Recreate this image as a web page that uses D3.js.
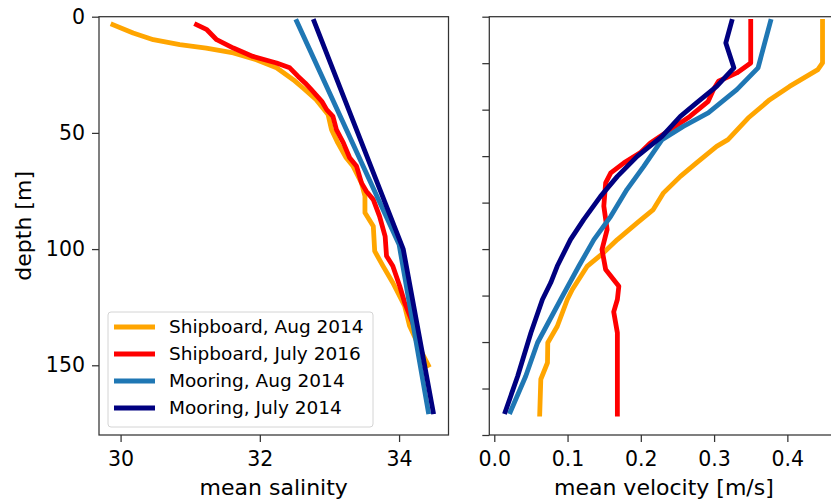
<!DOCTYPE html>
<html>
<head>
<meta charset="utf-8">
<script src="https://cdn.jsdelivr.net/npm/d3@7"></script>
<style>
  body { margin: 0; background: #fff; }
  svg { font-family: "DejaVu Sans", sans-serif; }
</style>
</head>
<body>
<div id="chart"></div>
<script>
// ---- data ----
var seriesNames = ["Shipboard, Aug 2014", "Shipboard, July 2016", "Mooring, Aug 2014", "Mooring, July 2014"];
var seriesColors = ["#ffa500", "#ff0000", "#1f77b4", "#000080"];

// salinity profiles
var salDepthShip14 = [3.4, 7, 9.9, 12, 13.5, 15.6, 18.5, 22, 27.1, 30.7, 35.7, 42.1, 48.6, 54.3, 60.7, 64.4, 71.5, 77.2, 84.4, 90.2, 100.9, 107.3, 114.5, 124.5, 133, 145.3, 150];
var salShip14      = [29.89, 30.18, 30.47, 30.85, 31.23, 31.62, 31.95, 32.24, 32.48, 32.62, 32.81, 32.98, 33.03, 33.12, 33.24, 33.34, 33.46, 33.51, 33.51, 33.63, 33.65, 33.77, 33.91, 34.08, 34.15, 34.34, 34.42];
var salDepthShip16 = [3.4, 5.6, 9.9, 13.5, 17.1, 19.9, 22, 25.7, 28.5, 31.4, 36.4, 40, 42.9, 48.6, 54.3, 60.7, 64.4, 71.5, 75.1, 78.7, 85.9, 94.5, 103, 107.3, 116, 123, 136];
var salShip16      = [31.09, 31.24, 31.38, 31.62, 31.90, 32.24, 32.43, 32.55, 32.65, 32.74, 32.89, 32.96, 33.05, 33.10, 33.20, 33.29, 33.39, 33.46, 33.53, 33.63, 33.72, 33.80, 33.82, 33.91, 34.01, 34.08, 34.25];
var salDepthMoorAug = [2, 98, 170];
var salMoorAug      = [32.53, 34.00, 34.42];
var salDepthMoorJul = [2, 100, 170];
var salMoorJul      = [32.78, 34.06, 34.49];

// velocity profiles
var velDepthShip14 = [2, 19.9, 22.8, 30, 35.7, 43.6, 52.9, 55.8, 62.9, 68.7, 75.8, 83, 88.7, 95.9, 101.6, 107.3, 117.4, 121.7, 133.2, 140.3, 148.9, 156, 171];
var velShip14      = [0.448, 0.448, 0.4416, 0.403, 0.376, 0.3465, 0.319, 0.3035, 0.276, 0.254, 0.231, 0.217, 0.195, 0.168, 0.149, 0.127, 0.1065, 0.0997, 0.086, 0.073, 0.0726, 0.0635, 0.062];
var velDepthShip16 = [2, 19.9, 24.2, 27.8, 31.4, 36.4, 42.9, 48.6, 54.3, 58.6, 62.9, 67.2, 71.5, 81.5, 91.6, 100.2, 108.8, 116, 121.7, 127, 136, 171];
var velShip16      = [0.350, 0.350, 0.331, 0.306, 0.299, 0.292, 0.267, 0.240, 0.213, 0.199, 0.177, 0.159, 0.152, 0.1495, 0.154, 0.147, 0.152, 0.170, 0.168, 0.163, 0.168, 0.168];
var velDepthMoorAug = [2, 22, 31.4, 41.4, 47.2, 52.9, 64.4, 74.4, 85.9, 95.9, 107.3, 121.7, 140.3, 154.6, 170];
var velMoorAug      = [0.377, 0.360, 0.331, 0.292, 0.258, 0.229, 0.204, 0.181, 0.159, 0.136, 0.1155, 0.0906, 0.059, 0.043, 0.022];
var velDepthMoorJul = [2, 11.3, 22, 30, 37.1, 42.9, 51.5, 60.1, 68.7, 77.3, 87.3, 95.9, 107.3, 114.5, 121.7, 136, 154.6, 170];
var velMoorJul      = [0.324, 0.316, 0.327, 0.3035, 0.276, 0.254, 0.229, 0.195, 0.168, 0.145, 0.122, 0.104, 0.086, 0.077, 0.0657, 0.050, 0.032, 0.015];

var salTicks = [30, 32, 34];
var velTicks = [0.0, 0.1, 0.2, 0.3, 0.4];
var depthTicksLeft = [0, 50, 100, 150];
var depthTicksRight = [0, 20, 40, 60, 80, 100, 120, 140, 160, 180];

// ---- layout ----
var width = 831, height = 501;
var plotTop = 16.7, plotBottom = 435;
var left1 = 99, right1 = 448.5;
var left2 = 489.3, right2 = 838.5;

var svg = d3.select("#chart").append("svg")
    .attr("width", width)
    .attr("height", height);

var y = d3.scaleLinear().domain([0, 180]).range([plotTop, plotBottom]);
var xSal = d3.scaleLinear().domain([29.69, 34.71]).range([left1, right1]);
var xVel = d3.scaleLinear().domain([-0.0068, 0.4698]).range([left2, right2]);

function zip(xs, ys) {
    return xs.map(function(v, i) { return [v, ys[i]]; });
}

var salSeries = [zip(salShip14, salDepthShip14), zip(salShip16, salDepthShip16),
                 zip(salMoorAug, salDepthMoorAug), zip(salMoorJul, salDepthMoorJul)];
var velSeries = [zip(velShip14, velDepthShip14), zip(velShip16, velDepthShip16),
                 zip(velMoorAug, velDepthMoorAug), zip(velMoorJul, velDepthMoorJul)];

function drawLines(g, series, x) {
    var line = d3.line()
        .x(function(d) { return x(d[0]); })
        .y(function(d) { return y(d[1]); });
    g.selectAll("path.profile")
        .data(series)
        .enter()
        .append("path")
        .attr("class", "profile")
        .attr("d", line)
        .attr("fill", "none")
        .attr("stroke", function(d, i) { return seriesColors[i]; })
        .attr("stroke-width", 4.8)
        .attr("stroke-linejoin", "round")
        .attr("stroke-linecap", "square");
}

function styleAxis(g, size) {
    g.selectAll(".domain").remove();
    g.selectAll(".tick line").attr("stroke", "#333").attr("stroke-width", 1.25);
    g.selectAll(".tick text")
        .attr("font-family", "DejaVu Sans")
        .attr("font-size", size)
        .attr("fill", "#000");
}

function drawFrame(x0, x1) {
    svg.append("rect")
        .attr("x", x0).attr("y", plotTop)
        .attr("width", x1 - x0).attr("height", plotBottom - plotTop)
        .attr("fill", "none")
        .attr("stroke", "#333")
        .attr("stroke-width", 1.25);
}

// left panel
var gLeft = svg.append("g");
drawLines(gLeft, salSeries, xSal);

svg.append("g")
    .attr("transform", "translate(0," + plotBottom + ")")
    .call(d3.axisBottom(xSal).tickValues(salTicks).tickFormat(d3.format("d")).tickSize(7).tickPadding(9.5))
    .call(styleAxis, 20.5);

svg.append("g")
    .attr("transform", "translate(" + left1 + ",0)")
    .call(d3.axisLeft(y).tickValues(depthTicksLeft).tickFormat(d3.format("d")).tickSize(7).tickPadding(7))
    .call(styleAxis, 20.5);

drawFrame(left1, right1);

// right panel
var gRight = svg.append("g");
drawLines(gRight, velSeries, xVel);

svg.append("g")
    .attr("transform", "translate(0," + plotBottom + ")")
    .call(d3.axisBottom(xVel).tickValues(velTicks).tickFormat(d3.format(".1f")).tickSize(7).tickPadding(9.5))
    .call(styleAxis, 20.5);

svg.append("g")
    .attr("transform", "translate(" + left2 + ",0)")
    .call(d3.axisLeft(y).tickValues(depthTicksRight).tickFormat("").tickSize(7))
    .call(styleAxis, 20.5);

drawFrame(left2, right2);

// axis labels
svg.append("text")
    .attr("x", (left1 + right1) / 2)
    .attr("y", 495)
    .attr("text-anchor", "middle")
    .attr("font-size", 22)
    .text("mean salinity");

svg.append("text")
    .attr("x", (left2 + right2) / 2)
    .attr("y", 495)
    .attr("text-anchor", "middle")
    .attr("font-size", 22)
    .text("mean velocity [m/s]");

svg.append("text")
    .attr("transform", "translate(31," + ((plotTop + plotBottom) / 2) + ") rotate(-90)")
    .attr("text-anchor", "middle")
    .attr("font-size", 22)
    .text("depth [m]");

// legend
var legend = svg.append("g").attr("transform", "translate(108,312)");
legend.append("rect")
    .attr("width", 265)
    .attr("height", 115)
    .attr("rx", 3)
    .attr("fill", "#fff")
    .attr("fill-opacity", 0.8)
    .attr("stroke", "#d4d4d4")
    .attr("stroke-width", 1);

var item = legend.selectAll("g.item")
    .data(seriesNames)
    .enter()
    .append("g")
    .attr("class", "item")
    .attr("transform", function(d, i) { return "translate(0," + (15 + i * 27) + ")"; });

item.append("line")
    .attr("x1", 6).attr("x2", 47)
    .attr("stroke", function(d, i) { return seriesColors[i]; })
    .attr("stroke-width", 4.8);

item.append("text")
    .attr("x", 61)
    .attr("dy", "0.35em")
    .attr("font-size", 18.5)
    .text(function(d) { return d; });
</script>
</body>
</html>
